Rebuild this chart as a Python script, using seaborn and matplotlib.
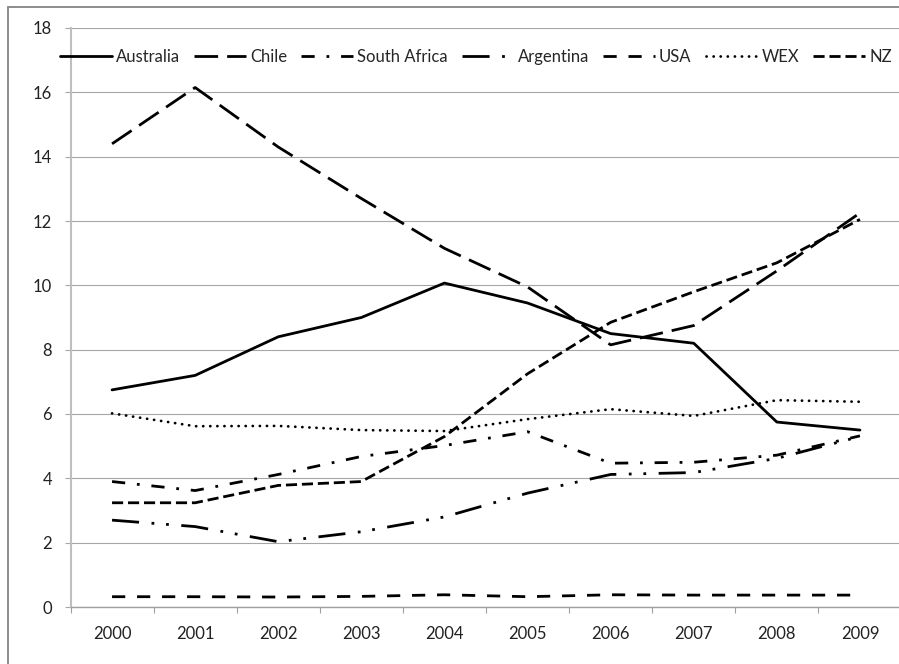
import matplotlib.pyplot as plt
import pandas as pd
import seaborn as sns
from matplotlib.lines import Line2D

# Datos
anios = [2000, 2001, 2002, 2003, 2004, 2005, 2006, 2007, 2008, 2009]
paises = ['Australia', 'Chile', 'South Africa', 'Argentina', 'USA', 'WEX', 'NZ']

australia = [6.75, 7.2, 8.4, 9.0, 10.07, 9.45, 8.5, 8.2, 5.75, 5.5]
chile = [14.4, 16.15, 14.3, 12.7, 11.15, 9.95, 8.15, 8.75, 10.45, 12.25]
south_africa = [3.9, 3.62, 4.12, 4.68, 5.02, 5.45, 4.47, 4.5, 4.72, 5.32]
argentina = [2.7, 2.5, 2.03, 2.34, 2.8, 3.54, 4.12, 4.18, 4.62, 5.3]
usa = [0.32, 0.32, 0.31, 0.33, 0.38, 0.32, 0.38, 0.37, 0.37, 0.37]
wex = [6.02, 5.62, 5.63, 5.5, 5.47, 5.84, 6.15, 5.94, 6.43, 6.38]
nz = [3.24, 3.24, 3.78, 3.9, 5.3, 7.25, 8.85, 9.8, 10.7, 12.05]

valores = [australia, chile, south_africa, argentina, usa, wex, nz]
df = pd.DataFrame({
    'anio': anios * len(paises),
    'pais': [p for p in paises for _ in anios],
    'valor': [v for serie in valores for v in serie],
})

# Estilos de linea (en puntos, sin escalar con el grosor)
estilos = {
    'Australia': '-',
    'Chile': (0, (17, 6.5)),
    'South Africa': (0, (9.5, 8.5, 2, 8.5)),
    'Argentina': (0, (19.5, 9, 2, 8.5, 2, 9)),
    'USA': (0, (9.5, 8.5)),
    'WEX': (0, (0.1, 5)),
    'NZ': (0, (8, 3.5)),
}

sns.set_style('white')
plt.rcParams['font.family'] = ['Lato', 'DejaVu Sans']
plt.rcParams['lines.scale_dashes'] = False

fig = plt.figure(figsize=(8.99, 6.64), dpi=100)
ax = fig.add_axes([70.5 / 899, 57 / 664, 831 / 899, 579 / 664])

for p in paises:
    sns.lineplot(data=df[df['pais'] == p], x='anio', y='valor', color='black',
                 lw=2, linestyle=estilos[p], label=p, errorbar=None,
                 dash_capstyle='round' if p == 'WEX' else 'butt', ax=ax)

ax.set_xlim(1999.5, 2009.5)
ax.set_ylim(0, 18)
ax.set_yticks(range(0, 19, 2))
ax.set_xticks(anios)
ax.set_xticks([a + 0.5 for a in anios[:-1]] + [1999.5], minor=True)
ax.set_xlabel('')
ax.set_ylabel('')

ax.yaxis.grid(True, color='#a6a6a6', lw=0.8)
ax.xaxis.grid(False)
ax.set_axisbelow(True)

for s in ['top', 'right']:
    ax.spines[s].set_visible(False)
ax.spines['left'].set_color('#bfbfbf')
ax.spines['left'].set_linewidth(1.5)
ax.spines['bottom'].set_color('#a0a0a0')
ax.spines['bottom'].set_linewidth(1)

ax.tick_params(axis='y', direction='out', length=4.3, color='#a6a6a6',
               width=0.8, pad=9, labelsize=12, labelcolor='#222222', left=True)
ax.tick_params(axis='x', which='major', length=0, pad=13.5, labelsize=12,
               labelcolor='#222222')
ax.tick_params(axis='x', which='minor', direction='out', length=4.3,
               color='#a0a0a0', width=0.8, bottom=True)

ax.legend(ncol=7, frameon=False, fontsize=12, loc='center left',
          bbox_to_anchor=(60 / 899, 1 - 57 / 664), bbox_transform=fig.transFigure,
          borderaxespad=0, borderpad=0, handlelength=3.1, handletextpad=0.25,
          columnspacing=0.85)

# Marco del grafico (solo se ven los bordes superior e izquierdo)
fig.add_artist(Line2D([8 / 899, 1], [1 - 6.5 / 664] * 2, transform=fig.transFigure,
                      color='#8c8c8c', lw=1.4))
fig.add_artist(Line2D([8 / 899] * 2, [0, 1 - 6.5 / 664], transform=fig.transFigure,
                      color='#8c8c8c', lw=1.4))

plt.savefig('out.png', dpi=100)
